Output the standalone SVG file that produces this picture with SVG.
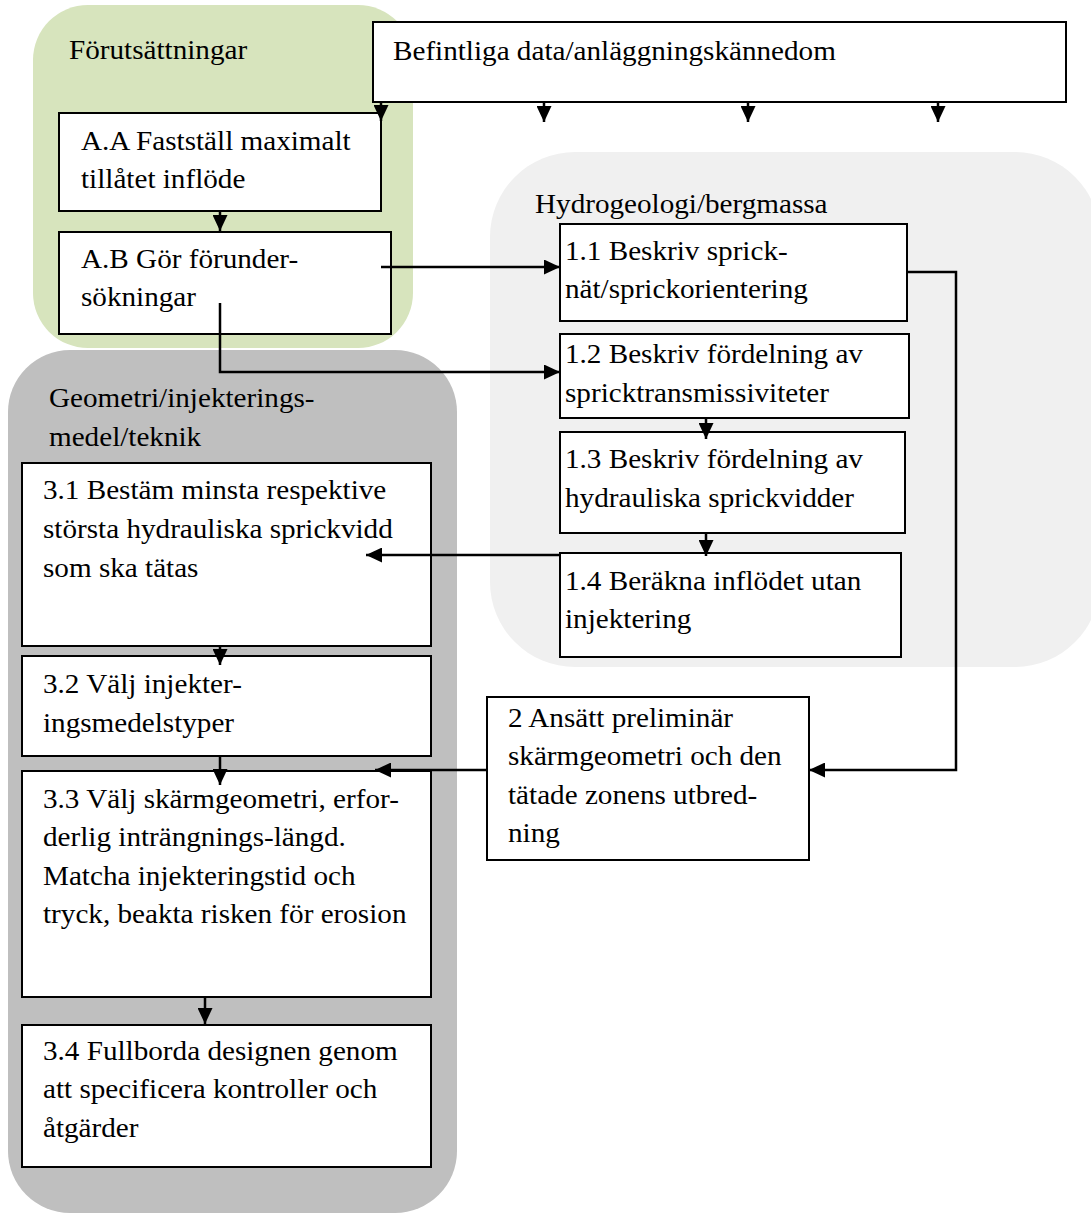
<svg xmlns="http://www.w3.org/2000/svg" width="1091" height="1214" viewBox="0 0 1091 1214">
<style>
.t{font-family:"Liberation Serif","Times New Roman",serif;font-size:27px;fill:#000}
.box{fill:#fff;stroke:#000;stroke-width:2}
.c{fill:none;stroke:#000;stroke-width:2.5;marker-end:url(#ah)}
</style>
<defs>
<marker id="ah" markerUnits="userSpaceOnUse" markerWidth="16" markerHeight="15" refX="16" refY="7.5" orient="auto">
<path d="M0,0 L16,7.5 L0,15 z" fill="#000"/>
</marker>
</defs>
<rect width="1091" height="1214" fill="#fff"/>

<g id="region-forutsattningar">
<rect x="33" y="5" width="380" height="343" rx="55" fill="#d7e4bd"/>
<text class="t" transform="translate(69,59) scale(1.08,1)">Förutsättningar</text>
</g>
<g id="region-hydrogeologi">
<rect x="490" y="152" width="610" height="515" rx="85" fill="#f0f0f0"/>
<text class="t" transform="translate(535,213) scale(1.08,1)">Hydrogeologi/bergmassa</text>
</g>
<g id="region-geometri">
<rect x="8" y="350" width="449" height="863" rx="62" fill="#bfbfbf"/>
<text class="t" transform="translate(49,407) scale(1.08,1)"><tspan x="0" y="0">Geometri/injekterings-</tspan><tspan x="0" y="39">medel/teknik</tspan></text>
</g>

<g id="node-befintliga">
<rect class="box" x="373" y="22" width="693" height="80"/>
<text class="t" transform="translate(393,60) scale(1.08,1)">Befintliga data/anläggningskännedom</text>
</g>
<g id="node-AA">
<rect class="box" x="59" y="113" width="322" height="98"/>
<text class="t" transform="translate(81,150) scale(1.08,1)"><tspan x="0" y="0">A.A Fastställ maximalt</tspan><tspan x="0" y="38.5">tillåtet inflöde</tspan></text>
</g>
<g id="node-AB">
<rect class="box" x="59" y="232" width="332" height="102"/>
<text class="t" transform="translate(81,268) scale(1.08,1)"><tspan x="0" y="0">A.B Gör förunder-</tspan><tspan x="0" y="38.5">sökningar</tspan></text>
</g>
<g id="node-1-1">
<rect class="box" x="560" y="224" width="347" height="97"/>
<text class="t" transform="translate(565,260) scale(1.08,1)"><tspan x="0" y="0">1.1 Beskriv sprick-</tspan><tspan x="0" y="38.5">nät/sprickorientering</tspan></text>
</g>
<g id="node-1-2">
<rect class="box" x="560" y="334" width="349" height="84"/>
<text class="t" transform="translate(565,363) scale(1.08,1)"><tspan x="0" y="0">1.2 Beskriv fördelning av</tspan><tspan x="0" y="39">spricktransmissiviteter</tspan></text>
</g>
<g id="node-1-3">
<rect class="box" x="560" y="432" width="345" height="101"/>
<text class="t" transform="translate(565,468) scale(1.08,1)"><tspan x="0" y="0">1.3 Beskriv fördelning av</tspan><tspan x="0" y="39">hydrauliska sprickvidder</tspan></text>
</g>
<g id="node-1-4">
<rect class="box" x="560" y="553" width="341" height="104"/>
<text class="t" transform="translate(565,590) scale(1.08,1)"><tspan x="0" y="0">1.4 Beräkna inflödet utan</tspan><tspan x="0" y="38.5">injektering</tspan></text>
</g>
<g id="node-2">
<rect class="box" x="487" y="697" width="322" height="163"/>
<text class="t" transform="translate(508,727) scale(1.08,1)"><tspan x="0" y="0">2 Ansätt preliminär</tspan><tspan x="0" y="38.5">skärmgeometri och den</tspan><tspan x="0" y="77">tätade zonens utbred-</tspan><tspan x="0" y="115.5">ning</tspan></text>
</g>
<g id="node-3-1">
<rect class="box" x="22" y="463" width="409" height="183"/>
<text class="t" transform="translate(43,499) scale(1.08,1)"><tspan x="0" y="0">3.1 Bestäm minsta respektive</tspan><tspan x="0" y="39">största hydrauliska sprickvidd</tspan><tspan x="0" y="78">som ska tätas</tspan></text>
</g>
<g id="node-3-2">
<rect class="box" x="22" y="656" width="409" height="100"/>
<text class="t" transform="translate(43,693) scale(1.08,1)"><tspan x="0" y="0">3.2 Välj injekter-</tspan><tspan x="0" y="39">ingsmedelstyper</tspan></text>
</g>
<g id="node-3-3">
<rect class="box" x="22" y="771" width="409" height="226"/>
<text class="t" transform="translate(43,808) scale(1.08,1)"><tspan x="0" y="0">3.3 Välj skärmgeometri, erfor-</tspan><tspan x="0" y="38.5">derlig inträngnings-längd.</tspan><tspan x="0" y="77">Matcha injekteringstid och</tspan><tspan x="0" y="115.5">tryck, beakta risken för erosion</tspan></text>
</g>
<g id="node-3-4">
<rect class="box" x="22" y="1025" width="409" height="142"/>
<text class="t" transform="translate(43,1060) scale(1.08,1)"><tspan x="0" y="0">3.4 Fullborda designen genom</tspan><tspan x="0" y="38.5">att specificera kontroller och</tspan><tspan x="0" y="77">åtgärder</tspan></text>
</g>

<g id="connectors">
<path class="c" d="M381,102 V121"/>
<path class="c" d="M544,102 V122"/>
<path class="c" d="M748,102 V122"/>
<path class="c" d="M938,102 V122"/>
<path class="c" d="M220,211 V231"/>
<path class="c" d="M381,267 H560"/>
<path class="c" d="M220,303 V372 H560"/>
<path class="c" d="M907,272 H956 V770 H809"/>
<path class="c" d="M706,418 V439"/>
<path class="c" d="M706,533 V556"/>
<path class="c" d="M560,555 H366"/>
<path class="c" d="M487,770 H375"/>
<path class="c" d="M220,646 V665"/>
<path class="c" d="M220,756 V785"/>
<path class="c" d="M205,997 V1024"/>
</g>
</svg>
